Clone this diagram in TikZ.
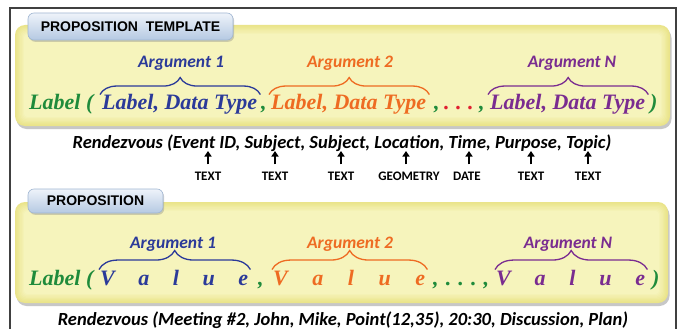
\documentclass[tikz,border=0pt]{standalone}
\usepackage{fontspec}
\setmainfont{Liberation Serif}
\newfontfamily\calfont{Carlito}
\newfontfamily\arialfont{Liberation Sans}
\usetikzlibrary{decorations.pathreplacing,arrows.meta,shadows}

\definecolor{lgreen}{HTML}{1F8B3B}
\definecolor{argblue}{HTML}{2B3A99}
\definecolor{argorange}{HTML}{EE6B22}
\definecolor{argpurple}{HTML}{7A2C90}
\definecolor{dotred}{HTML}{E02030}
\definecolor{paneledge}{HTML}{EAE48A}
\definecolor{panelcore}{HTML}{F6F4BC}
\definecolor{tabtop}{HTML}{EEF3FA}
\definecolor{tabbottom}{HTML}{B5C9E2}
\definecolor{tabline}{HTML}{A0B6D2}

\tikzset{
  frameline/.style={draw=black!75, line width=1.2pt},
  tabbox/.style={rounded corners=6pt, top color=tabtop, bottom color=tabbottom,
    draw=tabline, line width=0.6pt, inner sep=0pt,
    drop shadow={shadow xshift=1.2pt, shadow yshift=-1.8pt, opacity=.35},
    font=\arialfont\bfseries\fontsize{14}{16}\selectfont},
  term/.style={font=\bfseries\itshape\fontsize{22}{26}\selectfont, inner sep=0pt, anchor=base west},
  argname/.style={font=\calfont\bfseries\itshape\fontsize{17.5}{20}\selectfont, inner sep=0pt, anchor=base},
  argbrace/.style={decorate, decoration={brace, amplitude=#1}, line width=1.3pt},
  argbrace/.default=17pt,
  rdv/.style={font=\calfont\bfseries\itshape\fontsize{18.5}{22}\selectfont, inner sep=0pt, anchor=base},
  typelbl/.style={font=\calfont\bfseries\fontsize{13}{15}\selectfont, inner sep=0pt, anchor=base},
  typearrow/.style={line width=1.5pt, -{Triangle[length=5.5pt,width=7pt]}, shorten <=7pt},
}

% yellow rounded panel with a soft darker rim and a grey shadow
\newcommand\glowpanel[4]{%
  \fill[black!22, rounded corners=10pt] (#1+1.5,#2+3) rectangle (#3+1.5,#4+3);
  \foreach \k in {0,...,7}{%
    \pgfmathsetmacro\pc{\k*100/7}%
    \pgfmathsetmacro\rr{10-\k}%
    \fill[panelcore!\pc!paneledge, rounded corners=\rr pt]
      (#1+\k*1.3,#2+\k*1.3) rectangle (#3-\k*1.3,#4-\k*1.3);
  }%
}
% spread the letters of a word over a fixed width
\newcommand\spreadword[2]{\makebox[#1][s]{#2}}

\begin{document}
\begin{tikzpicture}[x=1pt,y=-1pt]
\useasboundingbox (0,0) rectangle (686,329);
\fill[white] (0,0) rectangle (686,329);

% outer frame, open at the bottom
\draw[frameline] (10,335) -- (10,8) -- (676,8) -- (676,335);

% ---------------- template panel ----------------
\glowpanel{15}{25}{670}{126}
\node[tabbox, minimum width=205pt, minimum height=27pt] (tabT) at (130.5,26.5) {PROPOSITION\ \ TEMPLATE};

\node[term, text=lgreen] (labT) at (29,110) {Label (};
\node[term, text=argblue] (dtA) at (102,110) {Label, Data Type};
\node[term, text=lgreen] (cmA) at (261,110) {,};
\node[term, text=argorange] (dtB) at (271,110) {Label, Data Type};
\node[term, text=lgreen] (cmB) at (434,110) {,};
\node[term, text=dotred] (dotA) at (444,110) {.};
\node[term, text=dotred] (dotB) at (456,110) {.};
\node[term, text=dotred] (dotC) at (468,110) {.};
\node[term, text=lgreen] (cmC) at (479,110) {,};
\node[term, text=argpurple] (dtN) at (490,110) {Label, Data Type};
\node[term, text=lgreen] (clT) at (650,110) {)};

\draw[argbrace, argblue] ([xshift=-2pt]dtA.north west) -- ([xshift=3pt]dtA.north east);
\draw[argbrace, argorange] ([xshift=-2pt]dtB.north west) -- ([xshift=3pt]dtB.north east);
\draw[argbrace, argpurple] ([xshift=-2pt]dtN.north west) -- ([xshift=3pt]dtN.north east);

\node[argname, text=argblue] (anA) at (181,68) {Argument 1};
\node[argname, text=argorange] (anB) at (350,68) {Argument 2};
\node[argname, text=argpurple] (anN) at (572,68) {Argument N};

% ---------------- schema line with data types ----------------
\node[rdv] (schema) at (342,148) {Rendezvous (Event ID, Subject, Subject, Location, Time, Purpose, Topic)};

\node[typelbl] (ty1) at (208,180) {TEXT};
\node[typelbl] (ty2) at (275,180) {TEXT};
\node[typelbl] (ty3) at (341,180) {TEXT};
\node[typelbl] (ty4) at (409,180) {GEOMETRY};
\node[typelbl] (ty5) at (467,180) {DATE};
\node[typelbl] (ty6) at (531,180) {TEXT};
\node[typelbl] (ty7) at (588,180) {TEXT};
\foreach \i/\xx in {1/208,2/275,3/341,4/406,5/469,6/531,7/588}{
  \coordinate (tip\i) at (\xx,151);
}
\foreach \i in {1,...,7}{
  \draw[typearrow] (ty\i.north -| tip\i) -- (tip\i);
}

% ---------------- proposition panel ----------------
\glowpanel{15}{202}{668}{303}
\node[tabbox, minimum width=135pt, minimum height=24pt] (tabP) at (95.5,201) {PROPOSITION};

\node[term, text=lgreen] (labP) at (29,285) {Label (};
\node[term, text=argblue] (vaA) at (100,285) {\spreadword{148pt}{V\hfill a\hfill l\hfill u\hfill e}};
\node[term, text=lgreen] (cmP) at (258,285) {,};
\node[term, text=argorange] (vaB) at (273,285) {\spreadword{152pt}{V\hfill a\hfill l\hfill u\hfill e}};
\node[term, text=lgreen] (dotsP) at (433,285) {\spreadword{56pt}{,\hfill.\hfill.\hfill.\hfill,}};
\node[term, text=argpurple] (vaN) at (496,285) {\spreadword{149pt}{V\hfill a\hfill l\hfill u\hfill e}};
\node[term, text=lgreen] (clP) at (652,285) {)};

\draw[argbrace=19pt, argblue] ([xshift=-1pt]vaA.north west) -- ([xshift=2pt]vaA.north east);
\draw[argbrace=19pt, argorange] ([xshift=-1pt]vaB.north west) -- ([xshift=2pt]vaB.north east);
\draw[argbrace=19pt, argpurple] ([xshift=-1pt]vaN.north west) -- ([xshift=2pt]vaN.north east);

\node[argname, text=argblue] (apA) at (173,248) {Argument 1};
\node[argname, text=argorange] (apB) at (350,248) {Argument 2};
\node[argname, text=argpurple] (apN) at (568,248) {Argument N};

\node[rdv] (inst) at (343,325) {Rendezvous (Meeting \#2, John, Mike, Point(12,35), 20:30, Discussion, Plan)};
\end{tikzpicture}
\end{document}
